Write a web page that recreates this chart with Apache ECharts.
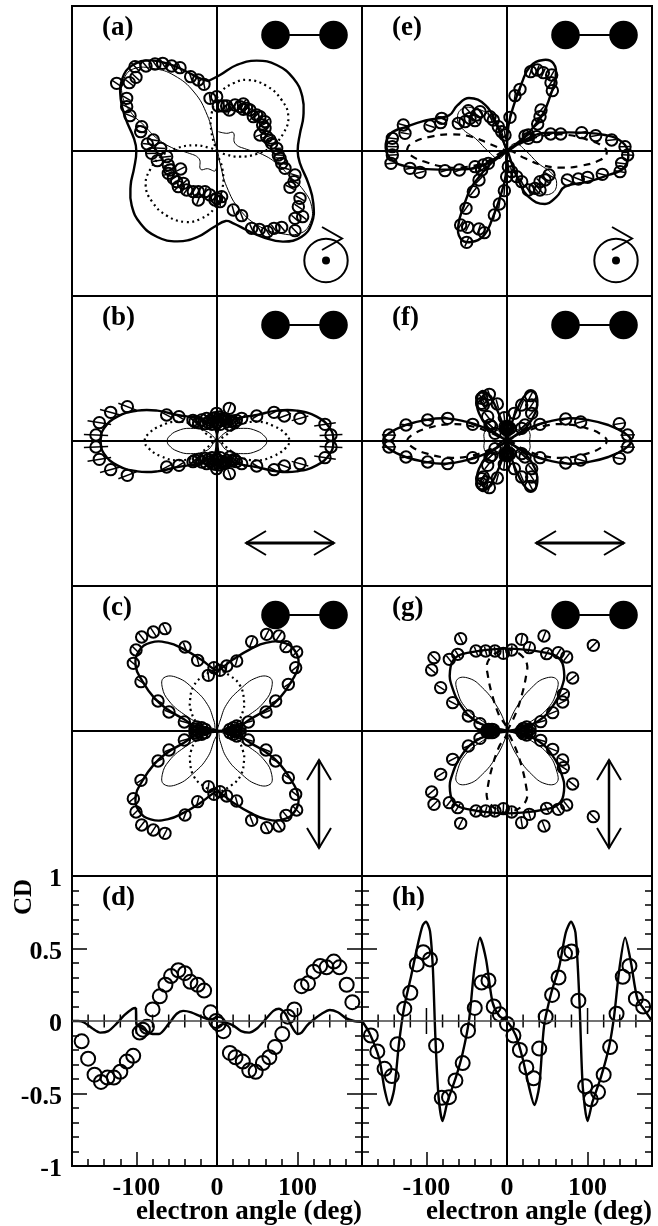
<!DOCTYPE html>
<html>
<head>
<meta charset="utf-8">
<title>electron angular distributions</title>
<script src="https://cdn.jsdelivr.net/npm/echarts@6/dist/echarts.min.js"></script>
<style>
html, body { margin: 0; padding: 0; background: #fff; }
#main { width: 658px; height: 1226px; }
</style>
</head>
<body>
<div id="main"></div>
<script>
// polar panels: x,y of the yield in plot units, centre of the panel is 0,0
// (a)
const aOuter = [[-26,210],[9,228],[59,258],[119,271],[179,258],[229,218],[256,163],[259,103],[249,53],[242,0],[249,-37],[274,-97],[289,-157],[284,-217],[254,-257],[199,-272],[139,-259],[89,-237],[49,-217],[26,-210]];
const aDotted = [[0,0],[-16,53],[-16,113],[9,173],[49,203],[94,213],[149,195],[194,153],[214,103],[199,53],[164,13],[119,-9],[69,-17],[24,-10],[0,0]];
const aThin = [[4,58],[29,53],[49,55],[54,23],[89,5],[129,-7],[179,-37],[219,-77],[259,-117],[284,-167],[279,-217],[249,-247],[189,-247],[129,-227],[69,-177],[29,-107],[9,-37],[0,0]];
const aCircles = [[-301,203],[-271,158],[-271,133],[-261,106],[-226,73],[-229,58],[-243,221],[-263,205],[-246,253],[-213,255],[-186,261],[-163,263],[-136,255],[-111,250],[-79,223],[-56,213],[-39,200],
  [-21,158],[-1,163],[4,135],[37,123],[29,135],[54,138],[79,141],[79,125],[99,123],[109,103],[129,103],[144,88],[144,68],[129,48],[149,43],[164,23],[179,8],[184,-12],[194,-37],[204,-52],[234,-72],[231,-92],[219,-109],[19,135],[69,133],[89,128],[119,108],[137,78],[159,33],[189,-22],
  [249,-142],[244,-167],[234,-202],[257,-197],[234,-239],[194,-229],[171,-232],[151,-242],[127,-235],[104,-232],[74,-194],[49,-177],
  [-209,21],[-191,33],[-169,8],[-196,-7],[-179,-29],[-151,-17],[-146,-42],[-109,-54],[-146,-67],[-131,-82],[-116,-107],[-101,-97],[-91,-117],[-56,-147],[-71,-122],[-56,-122],[-36,-122],[-21,-132],[-1,-142],[14,-137],[-6,-147],[9,-152],[-121,-92],[-141,-57]];
// (e)
const eOuter = [[0,0],[4,73],[19,133],[44,203],[69,253],[109,273],[139,263],[146,223],[129,163],[109,113],[84,78],[54,43],[0,0],[84,48],[144,55],[224,55],[294,48],[344,28],[364,-9],[349,-52],[304,-72],[244,-92],[174,-107],[149,-137],[114,-159],[64,-137],[34,-87],[14,-37],[0,0]];
const eDashed = [[0,0],[64,33],[124,48],[184,48],[244,33],[289,13],[299,-7],[279,-27],[224,-44],[164,-50],[104,-42],[54,-22],[0,0]];
const eThin = [[0,0],[24,23],[54,3],[94,-37],[134,-67],[149,-97],[134,-127],[94,-127],[54,-107],[24,-57],[4,-7],[0,0]];
const eCircles = [[-311,78],[-306,53],[-231,75],[-196,98],[-199,85],[-146,83],[-116,121],[-126,88],[-96,91],[-111,98],[-81,118],[-91,108],[-51,103],[-41,93],[-26,73],[-16,58],[-6,48],[9,101],
  [-344,38],[-344,13],[-344,-12],[-348,-37],[-291,-52],[-261,-64],[-186,-59],[-143,-57],[-96,-47],[-71,-42],[-56,-37],
  [-76,-57],[-84,-87],[-101,-122],[-123,-172],[-139,-222],[-118,-229],[-121,-274],[-84,-234],[-68,-245],[-38,-192],[-23,-159],[-8,-119],[-1,-77],
  [4,-47],[14,-62],[29,-77],[44,-92],[64,-117],[84,-112],[99,-117],[99,-92],[114,-87],[126,-72],
  [181,-87],[214,-84],[242,-79],[286,-70],[339,-62],[344,-37],[362,-12],[354,13],[314,33],[266,46],[224,55],[161,51],[131,51],[89,43],[54,45],[64,38],
  [39,185],[24,166],[71,238],[91,243],[109,235],[134,228],[132,205],[136,181],[102,123],[99,103],[92,81],[64,48]];
// (b) quarter curves, upper half of the circles
const bOuter = [[0,0],[8,40],[50,65],[119,78],[179,91],[239,91],[299,73],[339,38],[349,0]];
const bDotted = [[0,0],[30,20],[60,45],[120,58],[170,45],[205,22],[217,0]];
const bThin = [[0,0],[30,28],[79,38],[120,30],[145,12],[149,0]];
const bCircles = [[37,98],[-1,83],[74,68],[119,75],[171,86],[202,75],[249,68],[324,50],[342,18],[19,68],[29,58],[39,48],[4,58],[-11,68],
  [-269,103],[-319,86],[-353,55],[-363,18],[-151,78],[-114,73],[-66,58],[-46,63],[-31,68],
  [-20,62],[-25,55],[-35,52],[-15,50],[10,50],[15,62],[25,65],[-5,70],[8,72],[45,60],[52,55],[58,62],[-55,55],[-72,62]];
// (f)
const fOuter = [[0,0],[14,53],[34,103],[59,143],[79,148],[91,123],[84,83],[59,43],[30,20],[0,0],[69,40],[124,58],[184,68],[244,63],[304,48],[354,23],[372,0]];
const fDashed = [[0,0],[50,25],[110,45],[174,50],[240,38],[285,18],[299,0]];
const fThin = [[0,0],[25,30],[55,38],[68,25],[68,0]];
const fCircles = [[99,50],[176,66],[221,57],[337,52],[362,18],[-103,50],[-178,68],[-238,63],[-303,48],[-354,18],
  [71,136],[74,108],[44,108],[74,83],[22,83],[54,48],[44,38],[-8,70],[4,38],
  [-53,140],[-76,128],[-71,108],[-29,111],[-58,73],[-46,43],[-36,23],[-51,48],[-76,113],[-61,123],[-6,43],[9,38],[0,33],[-3,40],[3,44],[0,38]];
// (c)
const cOuter = [[0,0],[59,10],[99,35],[149,65],[189,100],[224,150],[244,195],[234,240],[199,265],[149,265],[99,245],[49,215],[9,185],[0,182]];
const cDotted = [[0,0],[30,8],[60,25],[78,60],[81,90],[70,135],[40,165],[0,182]];
const cThin = [[0,0],[9,30],[29,80],[69,125],[119,160],[159,160],[164,130],[144,90],[99,50],[39,15],[0,0]];
const cCircles = [[104,268],[149,290],[186,285],[207,253],[239,237],[236,190],[214,140],[176,90],[147,57],[94,27],[59,210],[29,195],[9,182],[-9,190],[-26,167],
  [54,0],[69,5],[49,10],[39,5],[59,15],
  [-156,307],[-191,297],[-226,282],[-243,243],[-251,203],[-228,148],[-177,90],[-144,57],[-98,27],[-96,252],[-58,212],
  [-56,0],[-66,5],[-46,10],[-36,5],[-61,12]];
// (g)
const gOuter = [[0,0],[40,8],[94,30],[134,70],[164,130],[171,180],[154,220],[114,235],[44,245],[0,247]];
const gDashed = [[0,0],[25,50],[45,110],[58,170],[60,200],[45,225],[20,240],[0,245]];
const gThin = [[0,0],[4,20],[34,80],[74,130],[114,158],[149,155],[149,120],[124,70],[74,30],[34,10],[0,0]];
const gCircles = [[44,275],[67,250],[111,285],[259,257],[119,232],[154,235],[179,222],[197,159],[169,110],[167,87],[137,55],[101,28],[14,243],
  [59,0],[69,5],[49,8],[59,12],[44,2],
  [-139,277],[-219,220],[-226,183],[-173,215],[-148,230],[-93,240],[-64,240],[-36,240],[-11,233],[-199,130],[-163,85],[-116,45],[-81,22],
  [-51,0],[-45,5],[-55,5],[-40,3],[-60,3]];

// CD panels: angle in deg, CD
const dCurve = [[-180,0],[-172,0],[-165,-0.01],[-155,-0.05],[-145,-0.08],[-135,-0.07],[-125,-0.02],[-115,0.04],[-105,0.085],[-101,0.09],[-100,-0.02],[-90,-0.06],[-80,-0.09],[-72,-0.09],[-60,-0.02],[-50,0.05],[-42,0.07],[-32,0.06],[-20,0.03],[-10,0.01],[0,0],[10,-0.01],[20,-0.03],[30,-0.07],[40,-0.08],[50,-0.05],[60,0.01],[70,0.07],[77,0.085],[85,0.05],[92,-0.03],[100,-0.09],[105,-0.08],[112,-0.03],[120,0.01],[130,0.05],[140,0.076],[150,0.06],[160,0.02],[170,0],[180,-0.005]];
const dCircles = [[-168,-0.14],[-160,-0.26],[-152,-0.37],[-144,-0.42],[-136,-0.39],[-128,-0.39],[-120,-0.35],[-112,-0.28],[-104,-0.24],[-96,-0.08],[-92,-0.06],[-87,-0.04],[-80,0.08],[-71,0.17],[-64,0.25],[-57,0.31],[-48,0.35],[-40,0.33],[-33,0.27],[-24,0.25],[-16,0.21],[-8,0.06],[-1,0],[2,-0.02],[8,-0.07],[16,-0.22],[23,-0.25],[32,-0.28],[40,-0.34],[48,-0.35],[57,-0.29],[65,-0.25],[72,-0.18],[81,-0.09],[88,0.03],[96,0.08],[105,0.24],[113,0.26],[120,0.34],[128,0.38],[136,0.37],[145,0.41],[152,0.37],[161,0.25],[168,0.13]];
const hCurve = [[-180,0],[-171,-0.08],[-158.6,-0.26],[-152,-0.47],[-146,-0.58],[-140,-0.47],[-134,-0.15],[-127.5,0.1],[-119,0.31],[-111,0.52],[-105,0.655],[-100.6,0.685],[-95.6,0.62],[-92,0.36],[-89,-0.1],[-85,-0.52],[-80,-0.69],[-74,-0.56],[-63,-0.38],[-55,-0.22],[-47,0.01],[-40.6,0.36],[-33.5,0.575],[-26,0.425],[-18,0.13],[-9.5,0.035],[0,0],[11,-0.1],[19.5,-0.26],[28,-0.47],[34,-0.58],[40,-0.45],[46,-0.035],[55,0.195],[65,0.38],[73,0.61],[79.5,0.685],[85,0.61],[90,0.13],[94,-0.45],[100,-0.69],[106,-0.56],[117,-0.38],[127,-0.17],[133,0.035],[139.5,0.36],[146.6,0.575],[154,0.4],[162,0.15],[172.7,0.06],[180,0]];
const hCircles = [[-169,-0.1],[-161,-0.21],[-152,-0.33],[-143,-0.38],[-136,-0.16],[-127.5,0.085],[-120,0.195],[-112,0.39],[-104,0.475],[-95.6,0.425],[-88,-0.17],[-81,-0.53],[-72,-0.525],[-64,-0.41],[-55,-0.29],[-48.4,-0.067],[-40,0.09],[-31.5,0.265],[-23,0.28],[-16.5,0.1],[-9,0.046],[0,-0.02],[8,-0.1],[16,-0.2],[24,-0.32],[33,-0.395],[40,-0.19],[48,0.03],[56,0.18],[64,0.3],[72,0.465],[80,0.48],[88.6,0.14],[97,-0.45],[104,-0.54],[113,-0.49],[120,-0.37],[128,-0.18],[136,0.05],[143.7,0.305],[152,0.38],[160,0.154],[169,0.1]];

const xTickLabels = [-100, 0, 100];
const zeroMajorTicks = [-100, 100];
const zeroMinorTicks = [-160,-140,-120,-80,-60,-40,-20,20,40,60,80,120,140,160];

// mirror helpers, the measured yields have these symmetries
const flipX = (p) => p.map(([x, y]) => [-x, y]);
const flipY = (p) => p.map(([x, y]) => [x, -y]);
const invert = (p) => p.map(([x, y]) => [-x, -y]);
const rev = (p) => p.slice().reverse();
const loopOnX = (q) => [...q, ...rev(flipY(q)), ...invert(q), ...rev(flipX(q))];
const loopOnY = (q) => [...q, ...rev(flipX(q)), ...invert(q), ...rev(flipY(q))];
const fourLobes = (q) => [...q, ...flipX(q), ...invert(q), ...flipY(q)];
const withInverse = (p) => [...p, ...invert(p)];
const bothHalves = (p) => [...p, ...flipY(p)];

const FONT = '"Liberation Serif", "Times New Roman", serif';
const UNIT = 435;
const THICK = { color: "#000", width: 2.4 };
const THIN = { color: "#000", width: 1 };
const DOTTED = { color: "#000", width: 2.2, type: [2, 3.5] };
const DASHED = { color: "#000", width: 2.2, type: [7, 6] };

const grids = [];
const xAxes = [];
const yAxes = [];
const series = [];
const graphics = [];

function dropRepeats(data) {
  return data.filter((p, i) => i === 0 || p[0] !== data[i - 1][0] || p[1] !== data[i - 1][1]);
}

// line series clamps its bezier handles to each segment box, polar loops need free ones
function loopSeries(x, y, points, style) {
  const data = dropRepeats(points);
  return {
    type: "custom",
    xAxisIndex: x,
    yAxisIndex: y,
    silent: true,
    clip: true,
    z: 3,
    encode: { x: 0, y: 1 },
    data: data,
    renderItem(params, api) {
      if (params.dataIndex !== 0) return null;
      return {
        type: "polyline",
        shape: { points: data.map((p) => api.coord(p)), smooth: 0.45 },
        style: { fill: "none", stroke: style.color, lineWidth: style.width, lineDash: style.type || null },
      };
    },
  };
}

function curveSeries(x, y, data, style, extra) {
  return Object.assign({
    type: "line",
    xAxisIndex: x,
    yAxisIndex: y,
    data: dropRepeats(data),
    smooth: 0.25,
    showSymbol: false,
    silent: true,
    lineStyle: style,
    clip: true,
    z: 3,
  }, extra);
}

function circleSeries(x, y, data, r, errFrac) {
  return {
    type: "custom",
    xAxisIndex: x,
    yAxisIndex: y,
    silent: true,
    clip: false,
    z: 4,
    encode: { x: 0, y: 1 },
    data: data,
    renderItem(params, api) {
      const vx = api.value(0);
      const vy = api.value(1);
      const c = api.coord([vx, vy]);
      const children = [{
        type: "circle",
        shape: { cx: c[0], cy: c[1], r: r },
        style: { fill: "none", stroke: "#000", lineWidth: 2 },
      }];
      if (errFrac) {
        // radial error bar
        const len = Math.hypot(vx, vy) || 1;
        const e = Math.max(14, errFrac * len) / len;
        const a = api.coord([vx * (1 - e), vy * (1 - e)]);
        const b = api.coord([vx * (1 + e), vy * (1 + e)]);
        children.push({
          type: "line",
          shape: { x1: a[0], y1: a[1], x2: b[0], y2: b[1] },
          style: { stroke: "#000", lineWidth: 1.5 },
        });
      }
      return { type: "group", children };
    },
  };
}

function zeroTickSeries(x, y, values, half) {
  return {
    type: "custom",
    xAxisIndex: x,
    yAxisIndex: y,
    silent: true,
    encode: { x: 0 },
    data: values.map((v) => [v, 0]),
    renderItem(params, api) {
      const c = api.coord([api.value(0), 0]);
      return {
        type: "line",
        shape: { x1: c[0], y1: c[1] - half, x2: c[0], y2: c[1] + half },
        style: { stroke: "#000", lineWidth: 1.5 },
      };
    },
  };
}

function panelLabel(text, left, top) {
  graphics.push({
    type: "text", x: left + 30, y: top + 22, z: 10,
    style: { text, font: "bold 27px " + FONT, fill: "#000", textAlign: "left", textVerticalAlign: "middle" },
  });
}

function dumbbell(left, top) {
  const y = top + 29;
  graphics.push(
    { type: "line", z: 10, shape: { x1: left + 203, y1: y, x2: left + 261, y2: y }, style: { stroke: "#000", lineWidth: 2 } },
    { type: "circle", z: 10, shape: { cx: left + 203.5, cy: y, r: 14.3 }, style: { fill: "#000" } },
    { type: "circle", z: 10, shape: { cx: left + 261.5, cy: y, r: 14.3 }, style: { fill: "#000" } }
  );
}

function polyline(points, width) {
  graphics.push({ type: "polyline", z: 10, shape: { points }, style: { stroke: "#000", fill: "none", lineWidth: width || 2 } });
}

function circularIcon(left, top) {
  const cx = left + 254;
  const cy = top + 254.5;
  graphics.push(
    { type: "circle", z: 10, shape: { cx, cy, r: 21.7 }, style: { fill: "none", stroke: "#000", lineWidth: 2 } },
    { type: "circle", z: 10, shape: { cx, cy, r: 4 }, style: { fill: "#000" } }
  );
  polyline([[cx - 4, cy - 33.5], [cx + 16, cy - 22], [cx - 4, cy - 10.5]]);
}

function horizontalArrow(left, top) {
  const y = top + 247;
  const x1 = left + 174;
  const x2 = left + 262;
  polyline([[x1, y], [x2, y]], 3);
  polyline([[x1 + 20, y - 12], [x1, y], [x1 + 20, y + 12]]);
  polyline([[x2 - 20, y - 12], [x2, y], [x2 - 20, y + 12]]);
}

function verticalArrow(left, top) {
  const x = left + 247;
  const y1 = top + 174;
  const y2 = top + 262;
  polyline([[x, y1], [x, y2]], 2.5);
  polyline([[x - 12, y1 + 20], [x, y1], [x + 12, y1 + 20]]);
  polyline([[x - 12, y2 - 20], [x, y2], [x + 12, y2 - 20]]);
}

function polarPanel(label, left, top, curves, circles, errFrac) {
  const g = grids.length;
  grids.push({ left, top, width: 290, height: 290, show: true, borderColor: "#000", borderWidth: 2, backgroundColor: "transparent" });
  const axis = {
    type: "value", gridIndex: g, min: -UNIT, max: UNIT,
    axisLine: { show: true, onZero: true, lineStyle: { color: "#000", width: 2 } },
    axisTick: { show: false }, axisLabel: { show: false }, splitLine: { show: false },
  };
  const x = xAxes.length;
  const y = yAxes.length;
  xAxes.push(axis);
  yAxes.push(axis);
  curves.forEach((c) => series.push(loopSeries(x, y, c[0], c[1])));
  series.push(circleSeries(x, y, circles, 5.7, errFrac));
  panelLabel(label, left, top);
  dumbbell(left, top);
}

function cdPanel(label, left, top, curve, circles, showY) {
  const g = grids.length;
  grids.push({ left, top, width: 290, height: 290, show: true, borderColor: "#000", borderWidth: 2, backgroundColor: "transparent" });
  const x = xAxes.length;
  const y = yAxes.length;
  const base = { gridIndex: g, type: "value", splitLine: { show: false }, axisLine: { show: false, onZero: false } };
  const tickLine = { color: "#000", width: 1.5 };
  // minor ticks along the bottom
  xAxes.push(Object.assign({}, base, {
    min: -180, max: 180, interval: 20, position: "bottom",
    axisTick: { inside: true, length: 7, lineStyle: tickLine },
    axisLabel: { show: false },
  }));
  // major ticks and labels
  xAxes.push(Object.assign({}, base, {
    min: -180, max: 180, position: "bottom",
    axisTick: { inside: true, length: 14, lineStyle: tickLine, customValues: xTickLabels },
    axisLabel: { customValues: xTickLabels, margin: 9, color: "#000", fontFamily: FONT, fontWeight: "bold", fontSize: 26 },
  }));
  const yTicks = {
    min: -1, max: 1, interval: 0.5,
    axisTick: { inside: true, length: 15, lineStyle: tickLine },
    minorTick: { show: true, splitNumber: 5, length: 7, lineStyle: tickLine },
  };
  yAxes.push(Object.assign({}, base, yTicks, {
    position: "left",
    axisLabel: showY
      ? { margin: 10, color: "#000", fontFamily: FONT, fontWeight: "bold", fontSize: 26, verticalAlign: "top", lineHeight: 7 }
      : { show: false },
  }));
  yAxes.push(Object.assign({}, base, yTicks, { position: "right", axisLabel: { show: false } }));

  series.push(curveSeries(x, y, curve, THICK, {
    markLine: {
      silent: true, symbol: "none", label: { show: false }, animation: false,
      data: [
        { xAxis: 0, lineStyle: { color: "#000", width: 2, type: "solid" } },
        { yAxis: 0, lineStyle: { color: "#444", width: 1.5, type: "solid" } },
      ],
    },
  }));
  series.push(zeroTickSeries(x, y, zeroMajorTicks, 13));
  series.push(zeroTickSeries(x, y, zeroMinorTicks, 6.5));
  series.push(circleSeries(x, y, circles, 7, 0));
  panelLabel(label, left, top);
}

const COL = [72, 362];
const ROW = [6, 296, 586, 876];

polarPanel("(a)", COL[0], ROW[0], [[[...aOuter, ...invert(aOuter), aOuter[0]], THICK], [withInverse(aDotted), DOTTED], [withInverse(aThin), THIN]], aCircles, 0.045);
polarPanel("(b)", COL[0], ROW[1], [[loopOnX(bOuter), THICK], [loopOnX(bDotted), DOTTED], [loopOnX(bThin), THIN]], bothHalves(bCircles), 0.1);
polarPanel("(c)", COL[0], ROW[2], [[loopOnY(cOuter), THICK], [loopOnY(cDotted), DOTTED], [fourLobes(cThin), THIN]], bothHalves(cCircles), 0.05);
cdPanel("(d)", COL[0], ROW[3], dCurve, dCircles, true);
polarPanel("(e)", COL[1], ROW[0], [[withInverse(eOuter), THICK], [withInverse(eDashed), DASHED], [withInverse(eThin), THIN]], eCircles, 0.045);
polarPanel("(f)", COL[1], ROW[1], [[loopOnX(fOuter), THICK], [loopOnX(fDashed), DASHED], [loopOnX(fThin), THIN]], bothHalves(fCircles), 0.06);
polarPanel("(g)", COL[1], ROW[2], [[loopOnY(gOuter), THICK], [loopOnY(gDashed), DASHED], [fourLobes(gThin), THIN]], bothHalves(gCircles), 0.05);
cdPanel("(h)", COL[1], ROW[3], hCurve, hCircles, false);

COL.forEach((left) => {
  circularIcon(left, ROW[0]);
  horizontalArrow(left, ROW[1]);
  verticalArrow(left, ROW[2]);
  graphics.push({
    type: "text", x: left + 290, y: 1212, z: 10,
    style: { text: "electron angle (deg)", font: "bold 27px " + FONT, fill: "#000", textAlign: "right", textVerticalAlign: "middle" },
  });
});
graphics.push({
  type: "text", x: 25, y: 897, rotation: Math.PI / 2, z: 10,
  style: { text: "CD", font: "bold 25px " + FONT, fill: "#000", textAlign: "center", textVerticalAlign: "middle" },
});

const myChart = echarts.init(document.getElementById("main"));
myChart.setOption({
  animation: false,
  backgroundColor: "#fff",
  grid: grids,
  xAxis: xAxes,
  yAxis: yAxes,
  series: series,
  graphic: { elements: graphics },
});
</script>
</body>
</html>
